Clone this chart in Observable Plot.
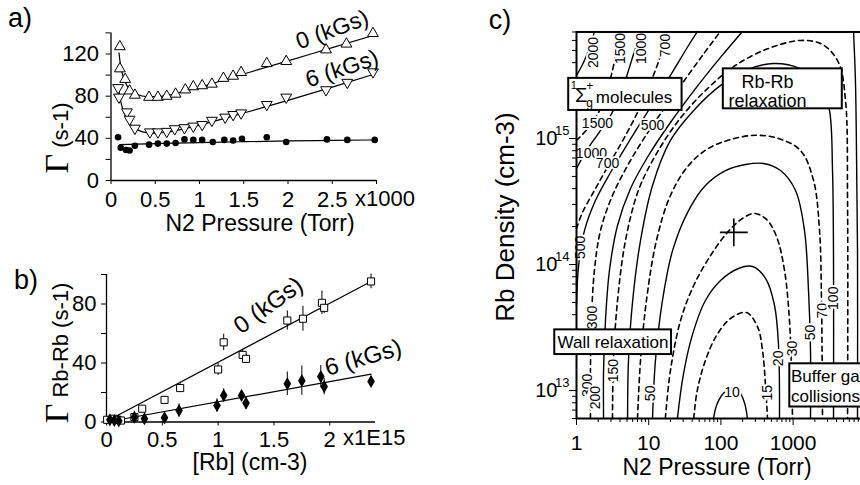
<!DOCTYPE html>
<html><head><meta charset="utf-8">
<script src="https://cdn.jsdelivr.net/npm/d3@7"></script>
<script src="https://cdn.jsdelivr.net/npm/@observablehq/plot@0.6"></script>
<style>
html,body{margin:0;padding:0;background:#fff;overflow:hidden;}
#wrap{position:relative;width:860px;height:485px;overflow:hidden;font-family:"Liberation Sans",Arial,sans-serif;color:#000;background:#fff;}
#wrap svg{position:absolute;left:0;top:0;}
.lbl{position:absolute;white-space:nowrap;line-height:1;}
</style></head><body><div id="wrap"></div>
<script>
// ---------------- Panel a data (N2 pressure in kTorr, Γ in s-1) ----------------
const aXTicks = [0, 0.5, 1, 1.5, 2, 2.5, 3];
const aXLabels = ["0", "0.5", "1", "1.5", "2", "2.5", ""];
const aYTicks = [0, 20, 40, 60, 80, 100, 120, 140];
const aYLabels = ["0", "", "40", "", "80", "", "120", ""];
const aUp0 = [[0.10,127],[0.10,106],[0.16,96],[0.21,85],[0.27,81],[0.43,79],[0.53,79],[0.63,80],[0.73,82],[0.84,86],[0.93,89],[1.03,90],[1.14,91.5],[1.27,97],[1.38,99],[1.47,102.5],[1.76,111],[1.98,113],[2.43,124],[2.66,129.5],[2.96,139.5]];
const aDown6 = [[0.08,88],[0.09,79],[0.18,65],[0.21,58],[0.27,49.5],[0.44,46],[0.53,46],[0.63,46.5],[0.72,49],[0.83,50],[0.93,51.5],[1.03,53],[1.14,57],[1.29,60],[1.38,62.5],[1.47,64],[1.76,72],[1.98,79],[2.43,86],[2.67,93],[2.96,103]];
const aCirc = [[0.08,41],[0.11,31],[0.17,29],[0.21,28.5],[0.27,33],[0.43,34],[0.53,35],[0.63,35],[0.73,35.5],[0.83,39],[0.93,38.5],[1.03,38.5],[1.15,36.5],[1.28,38.5],[1.38,38],[1.48,39.5],[1.76,41],[1.98,36.5],[2.44,39],[2.67,38.5],[2.98,38.5]];
const aFit0 = [[0.09,121],[0.11,108],[0.14,98],[0.18,90],[0.23,85],[0.3,81.5],[0.4,79.5],[0.5,79.5],[0.65,81],[0.8,84],[1.0,88.5],[1.5,101],[2.0,113.5],[2.5,126],[2.98,138]];
const aFit6 = [[0.09,85],[0.11,75],[0.14,66],[0.18,58],[0.23,52],[0.3,48],[0.4,45.5],[0.5,45],[0.65,46],[0.8,48.5],[1.0,52.5],[1.5,64],[2.0,76],[2.5,88.5],[2.98,101]];
const aFitC = [[0.1,34],[0.3,34.5],[0.6,35.2],[1.0,36],[1.5,36.8],[2.0,37.5],[2.5,38],[2.98,38.5]];
const aNotes = [{t:"0 (kGs)", x:2.5, y:143, r:-20},{t:"6 (kGs)", x:2.61, y:106, r:-18}];

// ---------------- Panel b data ([Rb] in 1e15 cm-3, Γ Rb-Rb in s-1, error) ----------------
const bXTicks = [0, 0.5, 1, 1.5, 2];
const bYTicks = [0, 20, 40, 60, 80, 100];
const bYLabels = ["0", "", "40", "", "80", ""];
const bSq0 = [[0.006,1.5,1],[0.06,2.2,1.5],[0.10,1.5,1],[0.13,1,1],[0.25,3.3,1.5],[0.32,9,2],[0.52,15,2],[0.66,23,3],[1.0,35.6,4],[1.05,54,5.5],[1.22,45.5,3],[1.25,42.8,3],[1.62,68.8,6.5],[1.76,70,8.5],[1.93,80.8,8],[1.95,77.4,4],[2.37,95.3,5]];
const bDia6 = [[0.03,1.5,1],[0.07,1,1],[0.11,0.7,1],[0.25,3.3,1.5],[0.34,2.2,1.5],[0.52,2.8,3],[0.65,7.8,4.5],[0.99,11.2,4.5],[1.05,18,4.5],[1.21,18,3],[1.25,12.8,4],[1.62,25.9,8],[1.75,28,10],[1.92,30.8,7.5],[1.95,24,5.6],[2.37,27.5,2]];
const bFit0 = [[0,0.5],[2.37,95.3]];
const bFit6 = [[0,0],[2.37,32.5]];
const bNotes = [{t:"0 (kGs)", x:1.45, y:79, r:-36},{t:"6 (kGs)", x:2.30, y:43.5, r:-16}];

// ---------------- Panel c data (N2 pressure Torr, Rb density cm-3) ----------------
const cXMajor = [1, 10, 100, 1000, 10000];
const cXLabels = ["1", "10", "100", "1000", ""];
const cYMajor = [1e13, 1e14, 1e15];
const cYExp = ["13", "14", "15"];
const c10 = [[79,6e12],[87,7.6e12],[105,9.3e12],[136,1.04e13],[175,1.0e13],[212,8.0e12],[233,6e12]];
const c15 = [[42,6e12],[47,1.0e13],[61,1.73e13],[87,2.73e13],[136,3.73e13],[226,4.16e13],[321,3.22e13],[377,2.08e13],[415,1.1e13],[442,6e12]];
const c20 = [[25,6e12],[30,1.31e13],[40,2.73e13],[61,5.18e13],[99,7.47e13],[175,9.3e13],[274,9.64e13],[415,7.75e13],[553,4.73e13],[628,2.28e13],[648,6e12]];
const c30 = [[17,6e12],[20,1.44e13],[27.6,3.59e13],[42,6.82e13],[72,1.18e14],[123,1.8e14],[199,2.32e14],[292,2.54e14],[428,2.28e14],[589,1.67e14],[760,9e13],[891,3.59e13],[950,1.44e13],[981,6e12]];
const c50 = [[11.3,6e12],[12.4,1.73e13],[15.5,5.18e13],[21.4,1.29e14],[35.6,2.68e14],[61,4.24e14],[116,5.57e14],[219,6.22e14],[389,6.34e14],[669,5.57e14],[1080,3.87e14],[1438,1.86e14],[1635,6.22e13],[1742,2.08e13],[1742,6e12]];
const c70 = [[7.0,6e12],[7.7,1.73e13],[9.3,5.18e13],[12.8,1.55e14],[20,3.53e14],[35.6,6.11e14],[67,8.34e14],[136,9.82e14],[301,1.06e15],[628,1.0e15],[1265,8.04e14],[1918,4.65e14],[2322,1.86e14],[2474,5.18e13],[2553,6e12]];
const c100 = [[5.1,6e12],[5.25,1.73e13],[6.0,5.18e13],[7.7,1.55e14],[11.3,4.24e14],[20,9.65e14],[42,1.67e15],[99,2.64e15],[219,3.47e15],[535,3.94e15],[1265,3.59e15],[2397,2.78e15],[3192,1.67e15],[3515,5.57e14],[3629,1.08e14],[3629,6e12]];
const c150 = [[3.15,6e12],[3.25,1.73e13],[3.7,5.18e13],[4.77,1.55e14],[7.2,3.87e14],[12.4,7.33e14],[25.9,1.39e15],[61,2.4e15],[159,3.8e15],[456,5.18e15],[1265,6.0e15],[2553,5.57e15],[4257,4.01e15],[5321,2.0e15],[5674,3.22e14],[5674,6e12]];
const c200a = [[2.37,6e12],[2.37,1.44e13],[2.52,3.59e13],[2.86,8.97e13],[3.7,2.04e14],[5.6,4.01e14],[9.94,7.33e14],[20,1.34e15],[44.5,2.49e15],[98.7,4.4e15],[199,7.07e15]];
const c200b = [[7800,6e12],[7800,1.29e14],[7550,8.04e14],[7300,2.9e15],[6870,7.07e15]];
const c300 = [[1.56,6e12],[1.56,1.44e13],[1.61,3.59e13],[1.77,8.97e13],[2.15,1.86e14],[3.15,3.53e14],[5.6,6.7e14],[11.3,1.27e15],[25.9,2.49e15],[55.6,4.56e15],[98.7,7.07e15]];
const c500 = [[1,4.73e13],[1.07,9.82e13],[1.29,1.86e14],[1.83,3.22e14],[2.96,5.37e14],[5.25,9.31e14],[9.94,1.67e15],[18.8,2.99e15],[35.6,5.47e15],[47.4,7.07e15]];
const c700 = [[1,1.93e14],[1.21,2.59e14],[1.77,3.87e14],[2.77,6.11e14],[4.62,1.02e15],[7.22,1.67e15],[10.6,2.78e15],[14.6,4.56e15],[17.6,7.07e15]];
const c1000 = [[1,5.78e14],[1.38,8.04e14],[2.02,1.1e15],[2.96,1.52e15],[4.07,2.19e15],[5.25,3.47e15],[6.78,5.47e15],[8.2,7.07e15]];
const c1500 = [[1,9.65e14],[1.47,1.22e15],[2.02,1.61e15],[2.6,2.32e15],[3.15,3.47e15],[3.58,5.0e15],[4.07,7.07e15]];
const c2000 = [[1,3.16e15],[1.25,4.01e15],[1.56,5.47e15],[1.77,7.07e15]];
const contours = [
  {pts:c10,dash:false},{pts:c15,dash:true},{pts:c20,dash:false},{pts:c30,dash:true},
  {pts:c50,dash:false},{pts:c70,dash:true},{pts:c100,dash:false},{pts:c150,dash:true},
  {pts:c200a,dash:false},{pts:c200b,dash:false},{pts:c300,dash:true},{pts:c500,dash:false},
  {pts:c700,dash:true},{pts:c1000,dash:false},{pts:c1500,dash:true},{pts:c2000,dash:false}
];
const cLabText = ["2000","1500","1000","700","1500","500","1000","700","500","300","150","300","200","50","10","15","20","30","50","70","100"];
const cLabP    = [1.72, 4.07, 7.95, 17.1, 1.95, 11.3, 1.61, 2.69, 1.14, 1.67, 3.25, 1.42, 1.83, 10.6, 143, 442, 628, 981, 1742, 2553, 3629];
const cLabN    = [4.82e15,5.18e15,5.18e15,5.47e15,1.32e15,1.27e15,7.6e14,6.34e14,1.37e14,3.8e13,1.44e13,1.1e13,8.8e12,9.5e12,9.6e12,9.6e12,1.8e13,2.16e13,2.89e13,4.3e13,5.4e13];
const cLabRot  = [-90,-90,-90,-90,0,0,0,0,-90,-90,-90,-90,-90,-90,0,-90,-90,-90,-90,-90,-90];
const cBoxes = [
  {x1:0.78, x2:29, y1:1.67e15, y2:3.0e15},
  {x1:108, x2:4800, y1:1.72e15, y2:3.57e15},
  {x1:0.5, x2:20.7, y1:1.93e13, y2:3.03e13},
  {x1:900, x2:20000, y1:7.4e12, y2:1.63e13}
];
const cBoxTextMid = [
  {t:"Rb-Rb", x:442, y:2.82e15, s:18},
  {t:"relaxation", x:442, y:1.99e15, s:18},
  {t:"Wall relaxation", x:3.2, y:2.4e13, s:17},
  {t:"\u03A3", x:1.16, y:2.2e15, s:20},
  {t:"1", x:0.92, y:2.62e15, s:11},
  {t:"+", x:1.52, y:2.62e15, s:12},
  {t:"g", x:1.52, y:1.9e15, s:12}
];
const cBoxTextStart = [
  {t:"Buffer gas", x:935, y:1.29e13, s:17},
  {t:"collisions", x:935, y:9.0e12, s:17},
  {t:"molecules", x:1.85, y:2.12e15, s:17}
];
const cCross = [[151, 1.8e14]];

// ---------------- helpers ----------------
const wrap = document.getElementById("wrap");
const FONT = '"Liberation Sans", Arial, sans-serif';
const SERIF = '"Liberation Serif", "Times New Roman", serif';
const baseStyle = (fs) => ({fontFamily: FONT, fontSize: fs + "px", background: "transparent", maxWidth: "none", overflow: "visible", color: "black"});
const downTri = {draw(ctx, size) {
  const t = Math.sqrt(size / (3 * Math.sqrt(3))), s3 = Math.sqrt(3);
  ctx.moveTo(0, 2 * t); ctx.lineTo(-s3 * t, -t); ctx.lineTo(s3 * t, -t); ctx.closePath();
}};
const X = d => d[0], Y = d => d[1];

// ---------------- Panel a ----------------
const plotA = Plot.plot({
  width: 860, height: 485,
  marginLeft: 110.5, marginRight: 860 - 376, marginTop: 32.4, marginBottom: 485 - 180,
  x: {domain: [0, 3]}, y: {domain: [0, 140]},
  style: baseStyle(22),
  marks: [
    Plot.axisY({ticks: aYTicks, tickSize: 5, tickPadding: 7, fontSize: 22, label: null, tickFormat: d => aYLabels[aYTicks.indexOf(d)]}),
    Plot.axisX({ticks: aXTicks, tickSize: 4, tickPadding: 7, fontSize: 22, label: null, tickFormat: d => aXLabels[aXTicks.indexOf(d)]}),
    Plot.ruleX([0], {strokeWidth: 1.3}),
    Plot.ruleY([0], {strokeWidth: 1.3}),
    Plot.line(aFit0, {x: X, y: Y, curve: "monotone-x", strokeWidth: 1.2}),
    Plot.line(aFit6, {x: X, y: Y, curve: "monotone-x", strokeWidth: 1.2}),
    Plot.line(aFitC, {x: X, y: Y, curve: "monotone-x", strokeWidth: 1.2}),
    Plot.dot(aUp0, {x: X, y: Y, symbol: "triangle", r: 4, stroke: "black", fill: "white", strokeWidth: 1}),
    Plot.dot(aDown6, {x: X, y: Y, symbol: downTri, r: 4, stroke: "black", fill: "white", strokeWidth: 1}),
    Plot.dot(aCirc, {x: X, y: Y, r: 3.3, fill: "black", stroke: "none"}),
    Plot.text(aNotes, {x: "x", y: "y", text: "t", rotate: "r", fontSize: 23})
  ]
});
wrap.appendChild(plotA);

// ---------------- Panel b ----------------
const plotB = Plot.plot({
  width: 860, height: 485,
  marginLeft: 106, marginRight: 860 - 375, marginTop: 274, marginBottom: 485 - 421.5,
  x: {domain: [0, 2.41]}, y: {domain: [0, 100]},
  style: baseStyle(22),
  marks: [
    Plot.axisY({ticks: bYTicks, tickSize: 5, tickPadding: 5, fontSize: 22, label: null, tickFormat: d => bYLabels[bYTicks.indexOf(d)]}),
    Plot.axisX({ticks: bXTicks, tickSize: 4, tickPadding: 5, fontSize: 22, label: null, tickFormat: d => String(d)}),
    Plot.ruleX([0], {strokeWidth: 1.3}),
    Plot.ruleY([0], {strokeWidth: 1.3}),
    Plot.line(bFit0, {x: X, y: Y, strokeWidth: 1.2}),
    Plot.line(bFit6, {x: X, y: Y, strokeWidth: 1.2}),
    Plot.ruleX(bSq0, {x: X, y1: d => d[1] - d[2], y2: d => d[1] + d[2], strokeWidth: 1}),
    Plot.ruleX(bDia6, {x: X, y1: d => d[1] - d[2], y2: d => d[1] + d[2], strokeWidth: 1}),
    Plot.dot(bSq0, {x: X, y: Y, symbol: "square", r: 4, stroke: "black", fill: "white", strokeWidth: 1}),
    Plot.dot(bDia6, {x: X, y: Y, symbol: "diamond", r: 4, fill: "black", stroke: "none"}),
    Plot.text(bNotes, {x: "x", y: "y", text: "t", rotate: "r", fontSize: 24})
  ]
});
wrap.appendChild(plotB);

// ---------------- Panel c ----------------
const cXMinor = [], cYMinor = [];
for (let e = 0; e <= 3; e++) for (let m = 2; m <= 9; m++) cXMinor.push(m * 10 ** e);
for (let e = 12; e <= 15; e++) for (let m = 2; m <= 9; m++) { const v = m * 10 ** e; if (v >= 6e12 && v <= 7e15) cYMinor.push(v); }
const cLabels = cLabText.map((t, i) => ({t, x: cLabP[i], y: cLabN[i], r: cLabRot[i]}));
const plotC = Plot.plot({
  width: 870, height: 485,
  marginLeft: 576, marginRight: 870 - 864.8, marginTop: 31.5, marginBottom: 485 - 418,
  x: {type: "log", domain: [1, 10000]}, y: {type: "log", domain: [6e12, 7e15]},
  style: baseStyle(20),
  marks: [
    ...contours.map(c => Plot.line(c.pts, {x: X, y: Y, curve: "catmull-rom", strokeWidth: c.dash ? 1.6 : 1.4, strokeDasharray: c.dash ? "5,4" : null})),
    Plot.text(cLabels, {x: "x", y: "y", text: "t", rotate: "r", fontSize: 14, fill: "black", stroke: "white", strokeWidth: 4, paintOrder: "stroke"}),
    Plot.dot(cCross, {x: X, y: Y, symbol: "plus", r: 9, stroke: "black", strokeWidth: 1.6}),
    Plot.frame({strokeWidth: 2}),
    Plot.axisX({ticks: cXMinor, tickSize: 4, label: null, tickFormat: () => ""}),
    Plot.axisX({ticks: cXMajor, tickSize: 7, tickPadding: 10, fontSize: 21, label: null, tickFormat: d => cXLabels[cXMajor.indexOf(d)]}),
    Plot.axisY({ticks: cYMinor, tickSize: 4, label: null, tickFormat: () => ""}),
    Plot.axisY({ticks: cYMajor, tickSize: 7, tickPadding: 12, fontSize: 20, label: null, tickFormat: () => "10"}),
    Plot.text(cYMajor.map((v, i) => ({v, e: cYExp[i]})), {y: "v", text: "e", frameAnchor: "left", dx: -7, dy: -8, textAnchor: "end", fontSize: 13}),
    Plot.rect(cBoxes, {x1: "x1", x2: "x2", y1: "y1", y2: "y2", fill: "white", stroke: "black", strokeWidth: 2}),
    Plot.text(cBoxTextMid, {x: "x", y: "y", text: "t", fontSize: "s", textAnchor: "middle"}),
    Plot.text(cBoxTextStart, {x: "x", y: "y", text: "t", fontSize: "s", textAnchor: "start"})
  ]
});
wrap.appendChild(plotC);

// ---------------- titles & labels ----------------
function addText(parts, cx, cy, rot = 0, anchor = "middle") {
  const d = document.createElement("div");
  d.className = "lbl";
  d.style.left = cx + "px"; d.style.top = cy + "px";
  const tx = anchor === "start" ? "0" : "-50%";
  d.style.transform = `translate(${tx},-50%) rotate(${rot}deg)`;
  for (const [t, size, fam] of parts) {
    const s = document.createElement("span");
    s.textContent = t; s.style.fontSize = size + "px";
    if (fam) s.style.fontFamily = fam;
    d.appendChild(s);
  }
  wrap.appendChild(d);
}
addText([["a)", 27]], 20, 18);
addText([["b)", 27]], 26, 280);
addText([["c)", 27]], 500, 20);
addText([["N2 Pressure (Torr)", 23]], 260, 223);
addText([["x1000", 22]], 355, 199, 0, "start");
addText([["\u0393", 34, SERIF], [" (s-1)", 22]], 57, 138, -90);
addText([["[Rb] (cm-3)", 23]], 250, 462);
addText([["x1E15", 22]], 343, 438, 0, "start");
addText([["\u0393", 34, SERIF], [" Rb-Rb (s-1)", 22]], 57, 353, -90);
addText([["N2 Pressure (Torr)", 23]], 717, 467);
addText([["Rb Density (cm-3)", 26]], 505, 217, -90);
</script>
</body></html>
